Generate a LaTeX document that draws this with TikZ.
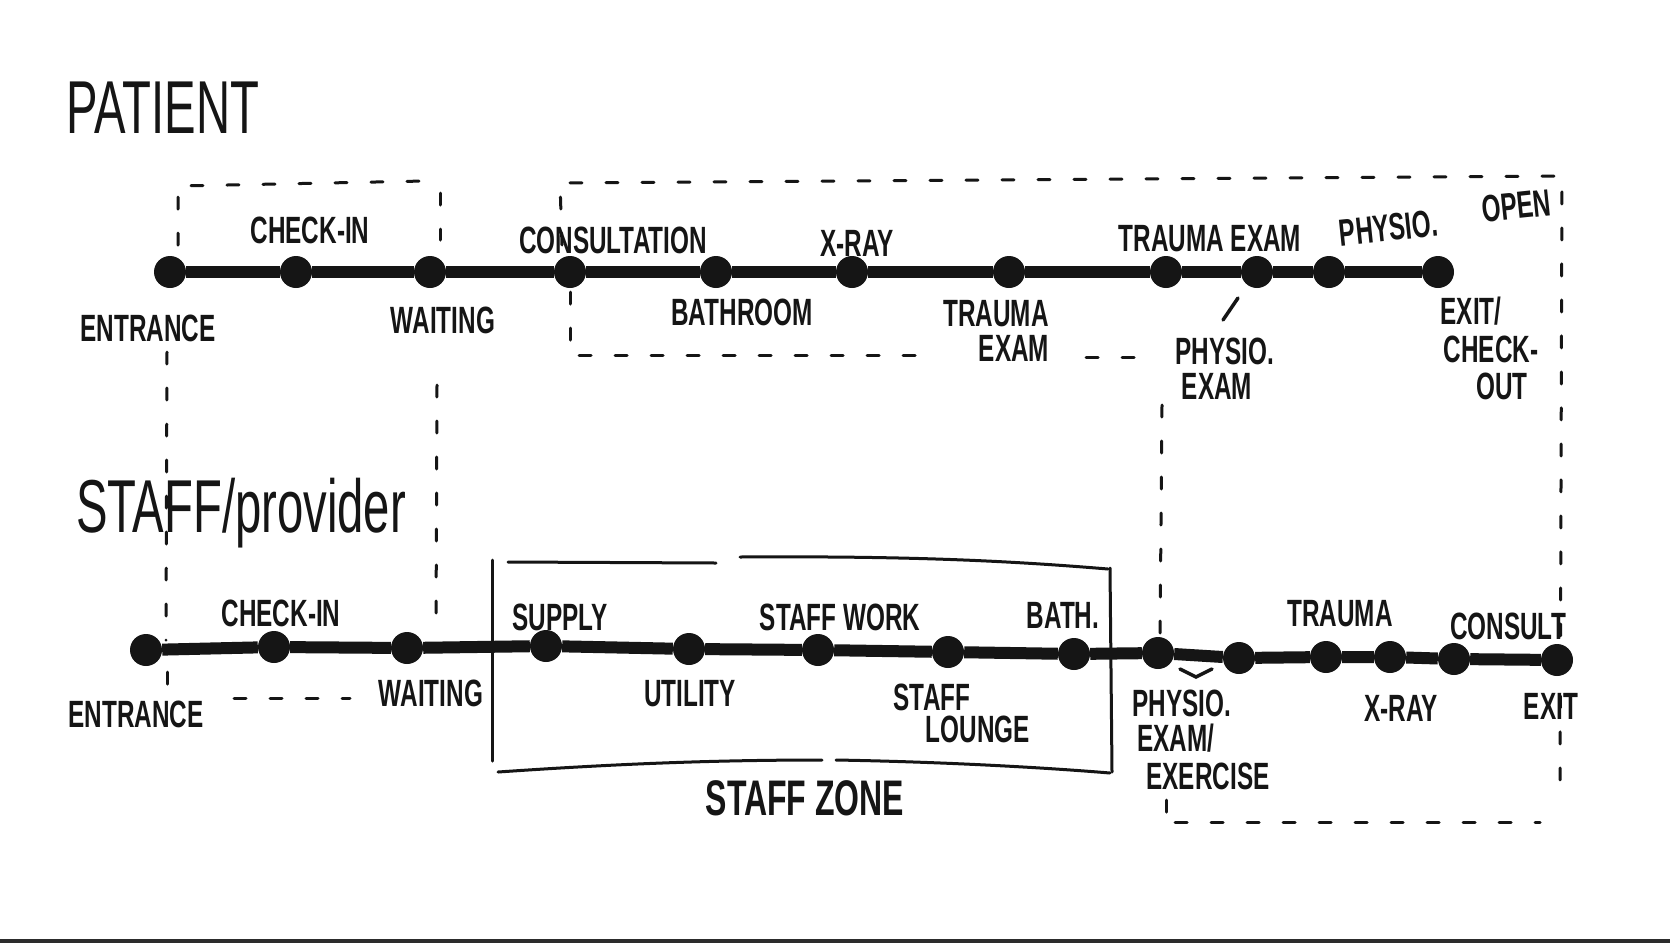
\documentclass[tikz,border=0pt]{standalone}
\usepackage{fontspec}
\newfontfamily\handfont[FakeStretch=0.64]{Liberation Sans}
\newfontfamily\titlehand[FakeStretch=0.63]{Liberation Sans}
\definecolor{ink}{HTML}{151515}
\begin{document}
\begin{tikzpicture}[x=1pt,y=-1pt,
  dot/.style={circle,fill=ink,draw=none,inner sep=0pt,minimum size=32pt},
  route/.style={draw=ink,line width=12pt},
  lbl/.style={font={\handfont\bfseries\fontsize{38}{38}\selectfont},text=ink,inner sep=0pt,anchor=base},
  ttl/.style={font={\titlehand\fontsize{75}{75}\selectfont},text=ink,inner sep=0pt,anchor=base},
  zonelbl/.style={font={\handfont\bfseries\fontsize{50}{50}\selectfont},text=ink,inner sep=0pt,anchor=base},
  zonedash/.style={draw=ink,line width=3pt,dash pattern=on 12pt off 24pt,line cap=round},
  zonesolid/.style={draw=ink,line width=3pt,line cap=round},
  pen/.style={draw=ink,line width=3.5pt,line cap=round},
]
\fill[white] (0,0) rectangle (1670,943);
\useasboundingbox (0,0) rectangle (1670,943);
\fill[ink!90] (0,939) rectangle (1670,943);

% ---------- titles
\node[ttl] (tpat) at (163,133) {PATIENT};
\node[ttl] (tstaff) at (241,532) {STAFF/provider};

% ---------- zones (dashed)
\draw[zonedash] (178,245) -- (178,186) -- (425,181);
\draw[zonedash] (440,193) -- (440,240);
\draw[zonedash] (167,352) -- (166,640);
\draw[zonedash] (437,385) -- (436,630);
\draw[zonedash] (167,672) -- (167,690);
\draw[zonedash] (234,698) -- (350,698);

\draw[zonedash] (562,245) -- (560,183) -- (1562,176) -- (1560,788);
\draw[zonedash] (570,292) -- (570,355) -- (927,355);
\draw[zonedash] (1086,357) -- (1134,357);
\draw[zonedash] (1162,405) -- (1160,640);
\draw[zonedash] (1166,800) -- (1166,815);
\draw[zonedash] (1175,822) -- (1540,822);

% ---------- staff zone (solid)
\draw[zonesolid] (492,560) -- (492,761);
\draw[zonesolid] (508,562) -- (716,563);
\draw[zonesolid] (740,557) .. controls (900,556) and (1000,560) .. (1108,569);
\draw[zonesolid] (1110,568) -- (1112,772);
\draw[zonesolid] (498,772) .. controls (600,765) and (700,760) .. (822,760);
\draw[zonesolid] (836,760) .. controls (950,762) and (1050,768) .. (1110,773);
\node[zonelbl] (zone) at (805,815) {STAFF ZONE};

% ---------- patient route
\node[dot] (p1) at (170,272) {};
\node[dot] (p2) at (296,272) {};
\node[dot] (p3) at (430,272) {};
\node[dot] (p4) at (570,272) {};
\node[dot] (p5) at (716,272) {};
\node[dot] (p6) at (852,272) {};
\node[dot] (p7) at (1009,272) {};
\node[dot] (p8) at (1166,272) {};
\node[dot] (p9) at (1257,272) {};
\node[dot] (p10) at (1329,272) {};
\node[dot] (p11) at (1438,272) {};
\draw[route] (p1) -- (p2) -- (p3) -- (p4) -- (p5) -- (p6) -- (p7) -- (p8) -- (p9) -- (p10) -- (p11);

\node[lbl] (lp1) at (148,341) {ENTRANCE};
\node[lbl] (lp2) at (310,243) {CHECK-IN};
\node[lbl] (lp3) at (443,333) {WAITING};
\node[lbl] (lp4) at (613,253) {CONSULTATION};
\node[lbl] (lp5) at (742,325) {BATHROOM};
\node[lbl] (lp6) at (857,256) {X-RAY};
\node[lbl] (lp7a) at (996,326) {TRAUMA};
\node[lbl] (lp7b) at (1014,361) {EXAM};
\node[lbl] (lp8) at (1210,251) {TRAUMA EXAM};
\node[lbl,rotate=6] (lp10) at (1390,241) {PHYSIO.};
\node[lbl,rotate=6] (lp10b) at (1518,219) {OPEN};
\draw[pen] (1223,320) -- (1238,298);
\node[lbl] (lp9a) at (1225,364) {PHYSIO.};
\node[lbl] (lp9b) at (1217,399) {EXAM};
\node[lbl] (lp11a) at (1471,324) {EXIT/};
\node[lbl] (lp11b) at (1491,362) {CHECK-};
\node[lbl] (lp11c) at (1502,399) {OUT};

% ---------- staff route
\node[dot] (s1) at (146,650) {};
\node[dot] (s2) at (274,647) {};
\node[dot] (s3) at (407,648) {};
\node[dot] (s4) at (546,646) {};
\node[dot] (s5) at (689,649) {};
\node[dot] (s6) at (818,650) {};
\node[dot] (s7) at (948,652) {};
\node[dot] (s8) at (1074,654) {};
\node[dot] (s9) at (1158,653) {};
\node[dot] (s10) at (1239,658) {};
\node[dot] (s11) at (1326,657) {};
\node[dot] (s12) at (1390,657) {};
\node[dot] (s13) at (1454,659) {};
\node[dot] (s14) at (1557,660) {};
\draw[route] (s1) -- (s2) -- (s3) -- (s4) -- (s5) -- (s6) -- (s7) -- (s8) -- (s9) -- (s10) -- (s11) -- (s12) -- (s13) -- (s14);

\node[lbl] (ls1) at (136,727) {ENTRANCE};
\node[lbl] (ls2) at (281,626) {CHECK-IN};
\node[lbl] (ls3) at (431,706) {WAITING};
\node[lbl] (ls4) at (560,630) {SUPPLY};
\node[lbl] (ls5) at (690,706) {UTILITY};
\node[lbl] (ls6) at (840,630) {STAFF WORK};
\node[lbl] (ls7a) at (932,710) {STAFF};
\node[lbl] (ls7b) at (978,742) {LOUNGE};
\node[lbl] (ls8) at (1063,628) {BATH.};
\draw[pen] (1180,669) -- (1196,677) -- (1212,669);
\node[lbl] (ls9a) at (1182,716) {PHYSIO.};
\node[lbl] (ls9b) at (1176,751) {EXAM/};
\node[lbl] (ls9c) at (1208,789) {EXERCISE};
\node[lbl] (ls11) at (1340,626) {TRAUMA};
\node[lbl] (ls12) at (1401,721) {X-RAY};
\node[lbl] (ls13) at (1508,639) {CONSULT};
\node[lbl] (ls14) at (1551,719) {EXIT};
\end{tikzpicture}
\end{document}
